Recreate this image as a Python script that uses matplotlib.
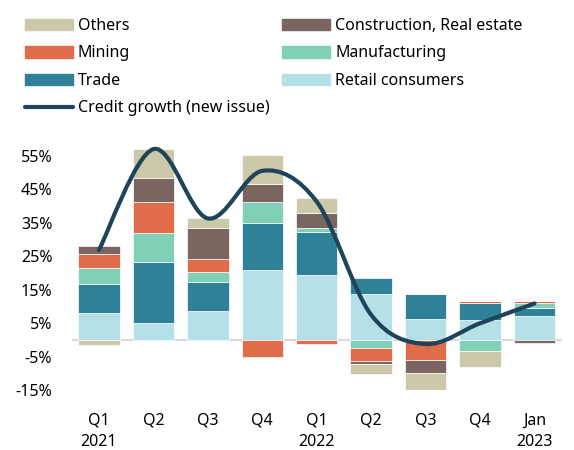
import numpy as np
import matplotlib
matplotlib.use("Agg")
import matplotlib.pyplot as plt
from matplotlib.path import Path
from matplotlib.patches import PathPatch
from matplotlib.lines import Line2D

plt.rcParams["font.family"] = ["Noto Sans", "DejaVu Sans"]

# ── Data (percentage points) ────────────────────────────────────
periods = ["Q1\n2021", "Q2", "Q3", "Q4", "Q1\n2022", "Q2", "Q3", "Q4", "Jan\n2023"]

retail        = [8.0, 5.1, 8.7, 21.0, 19.4, 13.6, 6.2, 6.0, 7.2]
trade         = [8.8, 18.2, 8.6, 13.9, 12.9, 5.0, 7.5, 4.9, 2.4]
manufacturing = [4.8, 8.6, 3.0, 6.3, 1.0, -2.3, 0.0, -3.2, 1.5]
mining        = [4.0, 9.4, 4.0, -5.0, -1.3, -3.9, -5.9, 0.7, 0.5]
construction  = [2.5, 7.1, 9.2, 5.5, 4.7, -1.1, -4.0, 0.0, -0.9]
others        = [-1.5, 8.5, 2.8, 8.5, 4.3, -2.9, -5.1, -4.8, 0.0]

credit_growth = [26.9, 57.0, 36.3, 50.5, 41.3, 7.5, -1.2, 5.0, 10.9]

yticks = [-15, -5, 5, 15, 25, 35, 45, 55]

# ── Style ───────────────────────────────────────────────────────
C = {
    "retail":        "#b5e0e8",
    "trade":         "#2e8196",
    "manufacturing": "#7fd0b7",
    "mining":        "#e06c4a",
    "construction":  "#7a6561",
    "others":        "#cbc9a9",
    "line":          "#1f4459",
}

series = [
    ("Retail consumers",          retail,        C["retail"]),
    ("Trade",                     trade,         C["trade"]),
    ("Manufacturing",             manufacturing, C["manufacturing"]),
    ("Mining",                    mining,        C["mining"]),
    ("Construction, Real estate", construction,  C["construction"]),
    ("Others",                    others,        C["others"]),
]

fig = plt.figure(figsize=(5.74, 4.5), dpi=100)
ax = fig.add_axes([0.125, 0.1328, 0.8536, 0.5582])

x = np.arange(len(periods))
pos_base = np.zeros(len(x))
neg_base = np.zeros(len(x))
for name, vals, col in series:
    v = np.array(vals)
    base = np.where(v >= 0, pos_base, neg_base)
    ax.bar(x, v, 0.76, bottom=base, color=col, edgecolor="white",
           linewidth=0.5, zorder=2)
    pos_base = pos_base + np.where(v > 0, v, 0)
    neg_base = neg_base + np.where(v < 0, v, 0)

ax.axhline(0, color="#d9d9d9", lw=1.5, zorder=1)

# smoothed line (Catmull-Rom as cubic Bezier segments through the points)
pts = np.column_stack([x, credit_growth]).astype(float)
ext = np.vstack([pts[0], pts, pts[-1]])
verts = [tuple(pts[0])]
codes = [Path.MOVETO]
for i in range(1, len(ext) - 2):
    p0, p1, p2, p3 = ext[i - 1], ext[i], ext[i + 1], ext[i + 2]
    c1 = p1 + (p2 - p0) / 6.0
    c2 = p2 - (p3 - p1) / 6.0
    verts += [tuple(c1), tuple(c2), tuple(p2)]
    codes += [Path.CURVE4] * 3
ax.add_patch(PathPatch(Path(verts, codes), fill=False, edgecolor=C["line"],
                       lw=3.0, capstyle="round", joinstyle="round",
                       zorder=3, clip_on=False))

ax.set_xlim(-0.5, 8.5)
ax.set_ylim(-15, 60)
ax.set_yticks(yticks)
ax.set_yticklabels([f"{t}%" for t in yticks], fontsize=11.5)
ax.set_xticks(x)
ax.set_xticklabels(periods, fontsize=11.5, linespacing=1.5)
ax.tick_params(axis="y", length=0, pad=14)
ax.tick_params(axis="x", length=0, pad=16)
for s in ax.spines.values():
    s.set_visible(False)

# legend: column 1 then column 2
order = ["Others", "Mining", "Trade", "Construction, Real estate",
         "Manufacturing", "Retail consumers"]
colors = {n: c for n, _, c in series}
handles = [plt.Rectangle((0, 0), 1, 1, color=colors[n]) for n in order[:3]]
handles.append(Line2D([0], [0], color=C["line"], lw=3.0, solid_capstyle="round"))
handles += [plt.Rectangle((0, 0), 1, 1, color=colors[n]) for n in order[3:]]
labels = order[:3] + ["Credit growth (new issue)"] + order[3:]

fig.legend(handles, labels, ncol=2, loc="upper left",
           bbox_to_anchor=(0.0245, 0.985), frameon=False, fontsize=11.5,
           handlelength=3.0, handleheight=0.75, handletextpad=0.3,
           columnspacing=0.8, labelspacing=0.72, borderaxespad=0.3)

fig.savefig("out.png", dpi=100)
